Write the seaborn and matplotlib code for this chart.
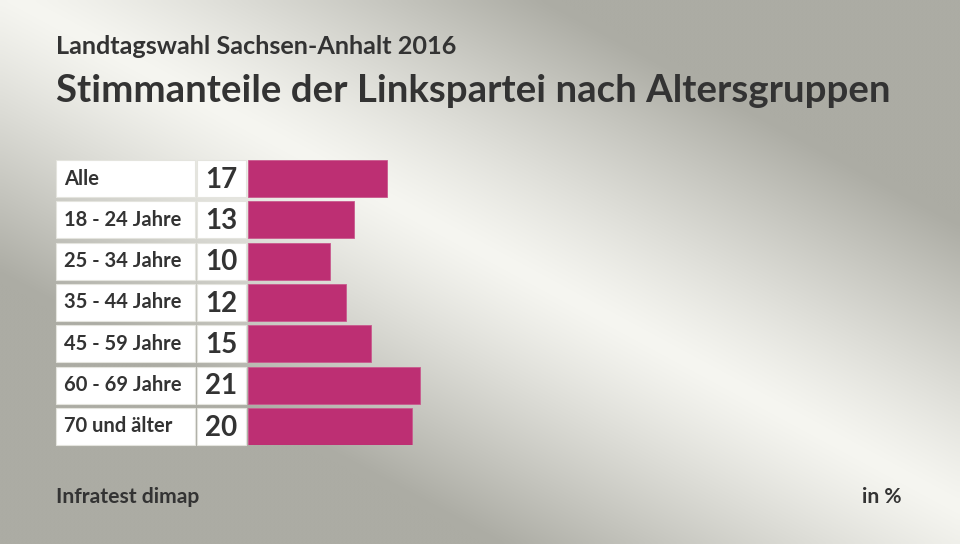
import numpy as np
import pandas as pd
import matplotlib
matplotlib.use("Agg")
import matplotlib.pyplot as plt
import matplotlib.transforms as mtransforms
from matplotlib.patches import Rectangle
import seaborn as sns

# Data
groups = ["Alle", "18 - 24 Jahre", "25 - 34 Jahre", "35 - 44 Jahre",
          "45 - 59 Jahre", "60 - 69 Jahre", "70 und älter"]
shares = [17, 13, 10, 12, 15, 21, 20]

title_top = "Landtagswahl Sachsen-Anhalt 2016"
title_main = "Stimmanteile der Linkspartei nach Altersgruppen"
source = "Infratest dimap"
unit = "in %"

df = pd.DataFrame({"group": groups, "share": shares})

sns.set_theme(style="white")
plt.rcParams["font.family"] = ["Lato", "DejaVu Sans"]

W, H = 960, 544
fig = plt.figure(figsize=(W / 100, H / 100), dpi=100)

# background gradient: light diagonal band, grey corners
bg = fig.add_axes([0, 0, 1, 1])
xx, yy = np.meshgrid(np.linspace(0, 1, 240), np.linspace(0, 1, 136))
d = np.abs(xx - yy * 1.05 - 0.02)
t = np.clip(d / 0.55, 0, 1) ** 1.2
light = np.array([246, 246, 241]) / 255
dark = np.array([172, 172, 164]) / 255
img = light + (dark - light) * t[..., None]
bg.imshow(img, extent=[0, 1, 0, 1], aspect="auto", interpolation="bicubic")
bg.set_axis_off()

# bar axes, placed in pixel positions
x0, y_top, y_bot = 248, 160, 445
px_per_unit = 8.18
ax_w = 654
ax = fig.add_axes([x0 / W, 1 - y_bot / H, ax_w / W, (y_bot - y_top) / H])
ax.patch.set_alpha(0)
sns.barplot(data=df, x="share", y="group", orient="h", color="#bd2f73",
            saturation=1, width=0.9, ax=ax, edgecolor="#c95a8e", linewidth=0.6)
ax.set_xlim(0, ax_w / px_per_unit)
ax.set_ylim(len(groups) - 0.55, -0.45)
ax.set_axis_off()

trans = mtransforms.blended_transform_factory(fig.transFigure, ax.transData)
for i, (g, v) in enumerate(zip(groups, shares)):
    ax.add_patch(Rectangle((56 / W, i - 0.45), (195 - 56) / W, 0.9,
                           transform=trans, facecolor="white",
                           edgecolor="#e4e4de", linewidth=0.8, clip_on=False))
    ax.add_patch(Rectangle((197 / W, i - 0.45), (246 - 197) / W, 0.9,
                           transform=trans, facecolor="white",
                           edgecolor="#e4e4de", linewidth=0.8, clip_on=False))
    ax.text(64 / W, i, g, transform=trans, ha="left", va="center",
            fontsize=14.5, fontweight="bold", color="#333333")
    ax.text(221 / W, i + 0.03, str(v), transform=trans, ha="center", va="center",
            fontsize=20, fontweight="bold", color="#333333")

fig.text(56 / W, 1 - 47 / H, title_top, ha="left", va="center",
         fontsize=18.2, fontweight="bold", color="#333333")
fig.text(56 / W, 1 - 91 / H, title_main, ha="left", va="center",
         fontsize=27.6, fontweight="bold", color="#333333")
fig.text(56 / W, 1 - 497 / H, source, ha="left", va="center",
         fontsize=15.2, fontweight="bold", color="#333333")
fig.text(902 / W, 1 - 497 / H, unit, ha="right", va="center",
         fontsize=15.2, fontweight="bold", color="#333333")

fig.savefig("out.png", dpi=100)
